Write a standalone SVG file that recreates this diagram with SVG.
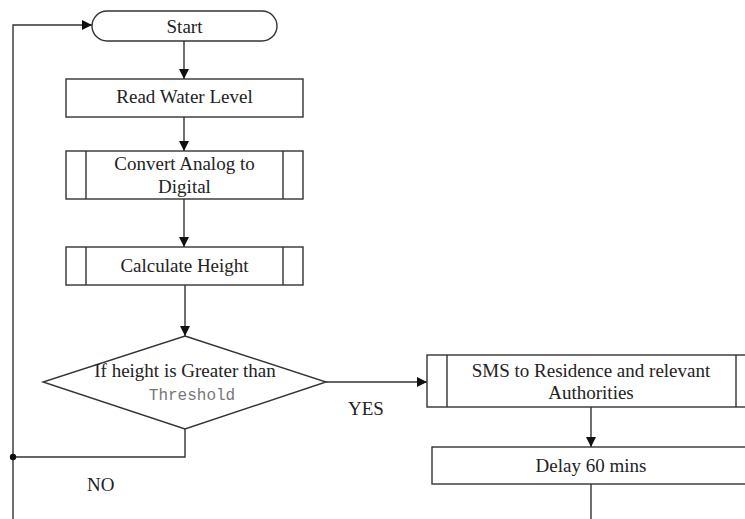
<svg xmlns="http://www.w3.org/2000/svg" width="745" height="519" viewBox="0 0 745 519">
<style>
.box{fill:#fff;stroke:#333;stroke-width:1.4}
.ln{fill:none;stroke:#333;stroke-width:1.4}
.t{font-family:"Liberation Serif","Times New Roman",serif;font-size:19px;fill:#222;text-anchor:middle}
.lab{font-family:"Liberation Serif","Times New Roman",serif;font-size:19px;fill:#222}
.mono{font-family:"Liberation Mono","Courier New",monospace;font-size:16px;fill:#777;text-anchor:middle}
</style>
<defs>
<marker id="ah" viewBox="0 0 10 10" refX="10" refY="5" markerWidth="10" markerHeight="10" markerUnits="userSpaceOnUse" orient="auto">
<path d="M0,0 L10,5 L0,10 Z" fill="#111"/>
</marker>
</defs>
<rect width="745" height="519" fill="#fff"/>
<g id="connectors">
<path class="ln" d="M184,41 V79" marker-end="url(#ah)"/>
<path class="ln" d="M184,117 V151" marker-end="url(#ah)"/>
<path class="ln" d="M184,199 V247" marker-end="url(#ah)"/>
<path class="ln" d="M185,285 V336" marker-end="url(#ah)"/>
<path class="ln" d="M326,382 H427" marker-end="url(#ah)"/>
<path class="ln" d="M591,407 V447" marker-end="url(#ah)"/>
<path class="ln" d="M591,484 V519"/>
<path class="ln" d="M185,429 V457 H13"/>
<path class="ln" d="M13,519 V25 H92" marker-end="url(#ah)"/>
<circle cx="13" cy="457" r="3.2" fill="#111"/>
<text class="lab" x="348" y="415">YES</text>
<text class="lab" x="87" y="491">NO</text>
</g>
<g id="start">
<rect class="box" x="92" y="11" width="185" height="30" rx="15" ry="15"/>
<text class="t" x="184.5" y="33">Start</text>
</g>
<g id="read">
<rect class="box" x="66" y="79" width="237" height="38"/>
<text class="t" x="184.5" y="103">Read Water Level</text>
</g>
<g id="convert">
<rect class="box" x="66" y="151" width="237" height="48"/>
<path class="ln" d="M86,151 V199 M283,151 V199"/>
<text class="t" x="184.5" y="170">Convert Analog to</text>
<text class="t" x="184.5" y="193">Digital</text>
</g>
<g id="calc">
<rect class="box" x="66" y="247" width="237" height="38"/>
<path class="ln" d="M86,247 V285 M283,247 V285"/>
<text class="t" x="184.5" y="272">Calculate Height</text>
</g>
<g id="decision">
<polygon class="box" points="185,336 326,382 185,429 43,382"/>
<text class="t" x="185" y="377">If height is Greater than</text>
<text class="mono" x="192" y="400">Threshold</text>
</g>
<g id="sms">
<rect class="box" x="427" y="355" width="340" height="52"/>
<path class="ln" d="M447,355 V407 M736,355 V407"/>
<text class="t" x="591" y="377">SMS to Residence and relevant</text>
<text class="t" x="591" y="399">Authorities</text>
</g>
<g id="delay">
<rect class="box" x="432" y="447" width="340" height="37"/>
<text class="t" x="591" y="472">Delay 60 mins</text>
</g>
</svg>
